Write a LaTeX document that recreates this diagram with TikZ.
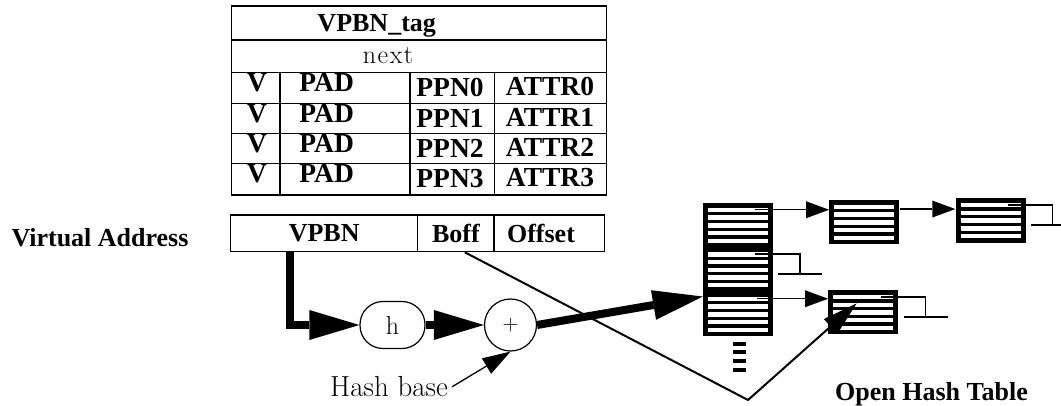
\documentclass[tikz,border=0pt]{standalone}
\usepackage{fontspec}
\newfontfamily\timesfont{Liberation Serif}
\usetikzlibrary{arrows.meta,calc}

\tikzset{
  bold/.style={font=\fontsize{26}{30}\selectfont\timesfont\bfseries, inner sep=0pt},
  cell/.style={font=\fontsize{27.5}{30}\selectfont\timesfont\bfseries, inner sep=0pt},
  roman/.style={font=\fontsize{26}{30}\selectfont, inner sep=0pt},
  field/.style={draw, line width=1.2pt, minimum height=36.7pt, inner sep=0pt, bold},
  entry/.style={rectangle, fill=black, minimum width=70pt, minimum height=44.5pt, inner sep=0pt,
    path picture={\foreach \k in {0,...,4}
      \fill[white] ($(path picture bounding box.north west)+(5,5+\k*7.7)$) rectangle ++(60,4.4);}},
  fat/.style={line width=8pt, -{Triangle[length=50pt,width=30pt,line width=0pt]}},
  ptr/.style={line width=1.5pt, -{Triangle[length=23pt,width=17pt,line width=0pt]}},
  nil/.style={line width=1.5pt},
}
\newcommand{\nullptr}[1]{\draw[nil] ($(#1.north east)+(-18,7.2)$) -- ++(45,0) -- ++(0,20) ++(-22,0) -- ++(44,0);}

\begin{document}
\begin{tikzpicture}[x=1pt,y=-1pt]
\useasboundingbox (0,0) rectangle (1061,406);

% page table entry
\draw[line width=1.2pt] (231.7,6) rectangle (606.7,195);
\foreach \y in {40,72.7,103.3,133.3,163.3} \draw[line width=1.2pt] (231.7,\y) -- (606.7,\y);
\draw[line width=2.5pt] (280,72.7) -- (280,195);
\foreach \x in {410,494.3} \draw[line width=1.2pt] (\x,72.7) -- (\x,195);
\node[bold, anchor=base] (tag) at (376.7,31.7) {VPBN\_tag};
\node[roman, anchor=base] (next) at (388,63.3) {n\kern1.5pt e\kern1.5pt x\kern1.5pt t};
\foreach \i/\y in {0/72.7,1/103.3,2/133.3,3/163.3} {
  \node[cell, anchor=base] (v\i) at (257,\y+19) {V};
  \node[cell, anchor=base] (pad\i) at (326.7,\y+19) {PAD};
  \node[cell, anchor=base] (ppn\i) at (450,\y+24) {PPN\i};
  \node[cell, anchor=base] (attr\i) at (550,\y+23) {ATTR\i};
}

% virtual address
\node[bold, anchor=base] (va) at (100,246.7) {Virtual Address};
\node[field, minimum width=187pt] (vpbn) at (324.2,233.35) {VPBN};
\node[field, minimum width=76.3pt] (boff) at (455.85,233.35) {Boff};
\node[field, minimum width=110.3pt] (offset) at (549,233.35) {Offset\hspace*{16pt}};

% hashing
\node[draw, line width=1.2pt, rounded corners=23pt, minimum width=65pt, minimum height=47pt, roman] (h) at (392.5,325) {h};
\node[draw, circle, line width=1.2pt, minimum size=52pt, inner sep=0pt, font=\fontsize{22}{24}\selectfont] (plus) at (510.5,325) {+};
\node[roman, font=\fontsize{29}{32}\selectfont, anchor=base west] (hashbase) at (330,396.7) {Hash base};

% open hash table
\node[entry] (b1) at (738,225) {};
\node[entry] (b2) at (738,269.5) {};
\node[entry] (b3) at (738,314) {};
\node[entry] (n1) at (864.3,222) {};
\node[entry] (n2) at (990.5,220.3) {};
\node[entry] (n3) at (863.3,312.2) {};
\foreach \y in {341.7,350,359,368} \fill (733.3,\y) rectangle (745.7,\y+3.8);
\node[bold, anchor=base] (oht) at (931.5,400) {Open Hash Table};

\coordinate (vpbnout) at ($(vpbn.south west)+(60,0)$);
\coordinate (boffout) at ($(boff.south)+(9,0)$);
\coordinate (hashin) at ($(b3.north west)+(0,5)$);
\coordinate (vee) at (748,400);
\coordinate (n3in) at ($(n3.center)+(-6.6,-8.9)$);
\coordinate (p1) at ($(b1.north east)+(-18,7.2)$);
\coordinate (p2) at ($(n1.north east)+(0,9.5)$);
\coordinate (p3) at ($(b3.north east)+(-16,7.2)$);

\draw[fat] (vpbnout) |- (h.west);
\draw[fat] (h.east) -- (plus.west);
\draw[line width=1.3pt, -{Triangle[length=28pt,width=18pt,line width=0pt]}] ($(hashbase.east)+(4,0)$) -- (plus.south);
\draw[line width=2pt, -{Triangle[length=35pt,width=20pt,line width=0pt]}] (boffout) -- (vee) -- (n3in);
\draw[fat] (plus.east) -- (hashin);

\draw[ptr] (p1) -- (p1 -| n1.west);
\draw[ptr] (p2) -- (p2 -| n2.west);
\draw[ptr] (p3) -- (p3 -| n3.west);
\nullptr{b2}
\nullptr{n2}
\nullptr{n3}
\end{tikzpicture}
\end{document}
